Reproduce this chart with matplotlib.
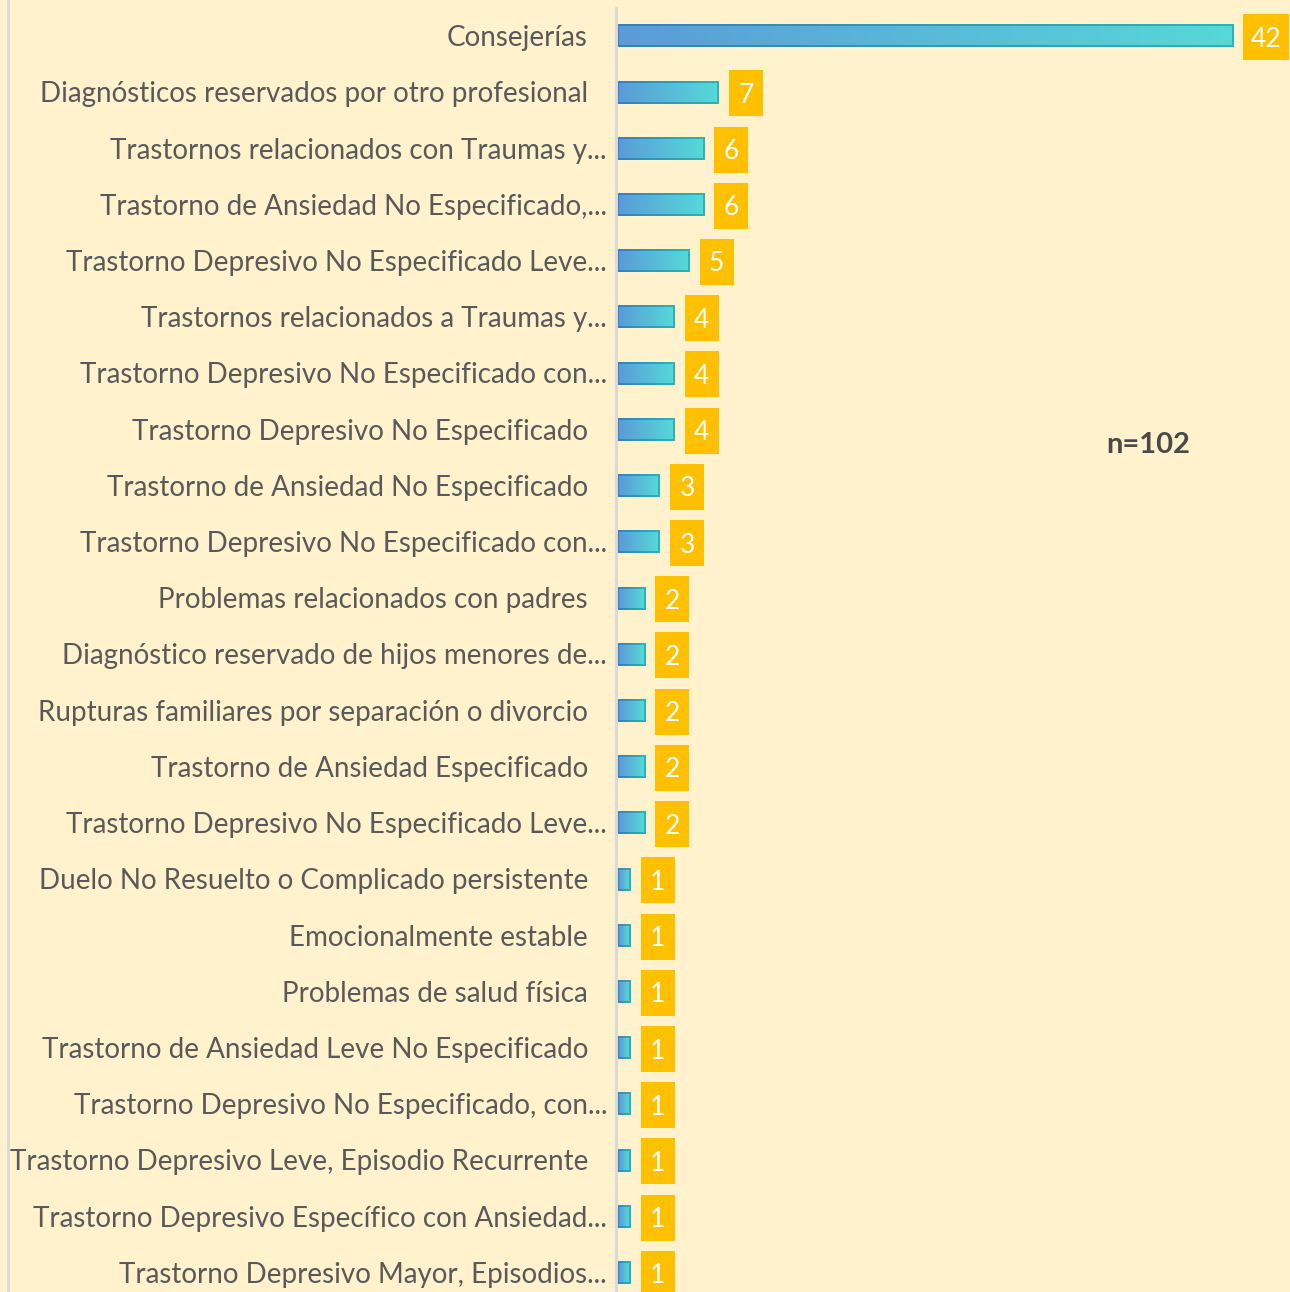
"""
Horizontal bar chart of diagnoses / consultation outcomes (n=102),
Excel-style gradient bars with yellow value boxes.
"""
import numpy as np
import matplotlib
matplotlib.use("Agg")
import matplotlib.pyplot as plt
import matplotlib.transforms as mtransforms
from matplotlib.colors import LinearSegmentedColormap
from matplotlib.patches import Rectangle
from matplotlib.lines import Line2D

categories = [
    "Consejerías",
    "Diagnósticos reservados por otro profesional",
    "Trastornos relacionados con Traumas y...",
    "Trastorno de Ansiedad No Especificado,...",
    "Trastorno Depresivo No Especificado Leve...",
    "Trastornos relacionados a Traumas y...",
    "Trastorno Depresivo No Especificado con...",
    "Trastorno Depresivo No Especificado",
    "Trastorno de Ansiedad No Especificado",
    "Trastorno Depresivo No Especificado con...",
    "Problemas relacionados con padres",
    "Diagnóstico reservado de hijos menores de...",
    "Rupturas familiares por separación o divorcio",
    "Trastorno de Ansiedad Especificado",
    "Trastorno Depresivo No Especificado Leve...",
    "Duelo No Resuelto o Complicado persistente",
    "Emocionalmente estable",
    "Problemas de salud física",
    "Trastorno de Ansiedad Leve No Especificado",
    "Trastorno Depresivo No Especificado, con...",
    "Trastorno Depresivo Leve, Episodio Recurrente",
    "Trastorno Depresivo Específico con Ansiedad...",
    "Trastorno Depresivo Mayor, Episodios...",
]
counts = [42, 7, 6, 6, 5, 4, 4, 4, 3, 3, 2, 2, 2, 2, 2, 1, 1, 1, 1, 1, 1, 1, 1]
total_label = "n=102"

BG = "#FFF2CC"
TXT = "#595959"
BOX = "#FFC000"
inner_cmap = LinearSegmentedColormap.from_list("inner", ["#5B9BD8", "#56D8D8"])
outer_cmap = LinearSegmentedColormap.from_list("outer", ["#3580C0", "#2BB4B6"])

plt.rcParams["font.family"] = ["Lato", "DejaVu Sans"]

W, H, DPI = 1290, 1292, 100
fig = plt.figure(figsize=(W / DPI, H / DPI), dpi=DPI, facecolor=BG)
ax = fig.add_axes([616 / W, 0, 1 - 616 / W, 1 - 8 / H])
ax.set_facecolor(BG)

n = len(categories)
ax.set_xlim(0, 45.85)
ax.set_ylim(n - 1 + 0.34, -0.5)
for s in ["top", "right", "bottom"]:
    ax.spines[s].set_visible(False)
ax.spines["left"].set_color("#D9D9D9")
ax.spines["left"].set_linewidth(2.2)
ax.set_xticks([])
ax.set_yticks([])

fig.canvas.draw()
px_x = ax.transData.transform((1, 0))[0] - ax.transData.transform((0, 0))[0]
px_y = abs(ax.transData.transform((0, 1))[1] - ax.transData.transform((0, 0))[1])

grad = np.linspace(0, 1, 256).reshape(1, -1)
bar_h = 0.40
edge = 2.0  # px
for i, (cat, v) in enumerate(zip(categories, counts)):
    x0 = 0.08
    ax.imshow(grad, cmap=outer_cmap, aspect="auto", interpolation="bilinear",
              extent=(x0, v, i + bar_h / 2, i - bar_h / 2), zorder=2)
    dx, dy = edge / px_x, edge / px_y
    ax.imshow(grad, cmap=inner_cmap, aspect="auto", interpolation="bilinear",
              extent=(x0 + dx, v - dx, i + bar_h / 2 - dy, i - bar_h / 2 + dy), zorder=3)

    # value box, sized in inches and anchored at the bar end
    trans = fig.dpi_scale_trans + mtransforms.ScaledTranslation(v, i, ax.transData)
    bw = (22 + 12 * len(str(v))) / DPI
    ax.add_patch(Rectangle((10 / DPI, -24 / DPI), bw, 46 / DPI, transform=trans,
                           facecolor=BOX, edgecolor="none", clip_on=False, zorder=4))
    ax.text(10 / DPI + bw / 2, -3 / DPI, str(v), transform=trans, ha="center",
            va="center", color="white", fontsize=19, clip_on=False, zorder=5)

    pad = 9 if cat.endswith("...") else 28
    lt = mtransforms.offset_copy(ax.get_yaxis_transform(), fig=fig, x=-pad, y=-2, units="dots")
    ax.text(0, i, cat, transform=lt, ha="right", va="center", color=TXT, fontsize=20)

ax.text(1148 / W, 1 - 445 / H, total_label, transform=fig.transFigure, ha="center",
        va="center", color="#4A4A4A", fontsize=21, fontweight="bold")

fig.add_artist(Line2D([8 / W, 8 / W], [0, 1], transform=fig.transFigure,
                      color="#D9D9D9", linewidth=2))

fig.savefig("out.png", dpi=DPI, facecolor=BG)
